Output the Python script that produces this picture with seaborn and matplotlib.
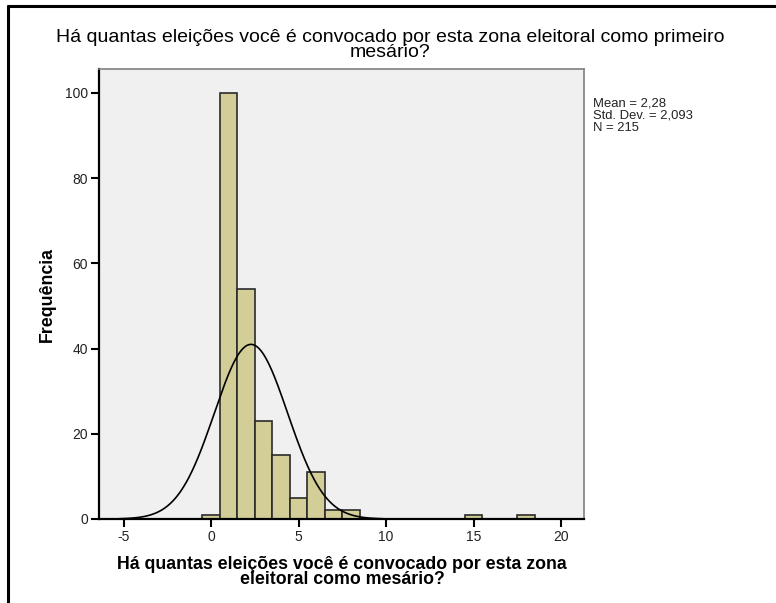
import numpy as np
import pandas as pd
import matplotlib
matplotlib.use("Agg")
import matplotlib.pyplot as plt
import seaborn as sns

# Data
values = [0, 1, 2, 3, 4, 5, 6, 7, 8, 15, 18]
counts = [1, 100, 54, 23, 15, 5, 11, 2, 2, 1, 1]
mean_val = 2.28
std_val = 2.093
n_val = 215
x_ticks = [-5, 0, 5, 10, 15, 20]
y_ticks = [0, 20, 40, 60, 80, 100]

title = "Há quantas eleições você é convocado por esta zona eleitoral como primeiro\nmesário?"
xlabel = "Há quantas eleições você é convocado por esta zona\neleitoral como mesário?"
ylabel = "Frequência"

sns.set_style("white")
plt.rcParams['font.family'] = ['Liberation Sans', 'DejaVu Sans']

W, H = 776, 603
fig = plt.figure(figsize=(W / 100, H / 100), dpi=100)
ax = fig.add_axes([99 / W, 1 - 519 / H, (584 - 99) / W, (519 - 69) / H])
ax.set_facecolor("#F0F0F0")

df = pd.DataFrame({"v": values, "c": counts})
sns.histplot(data=df, x="v", weights="c", binwidth=1, binrange=(-0.5, 18.5),
             color="#D3CE97", edgecolor="#2b2b2b", linewidth=1.2, alpha=1, ax=ax)

xs = np.linspace(mean_val - 3.6 * std_val, mean_val + 3.6 * std_val, 300)
ys = n_val * 1.0 * np.exp(-0.5 * ((xs - mean_val) / std_val) ** 2) / (std_val * np.sqrt(2 * np.pi))
sns.lineplot(x=xs, y=ys, color="black", linewidth=1.2, ax=ax)

ax.set_xlim(-6.4, 21.3)
ax.set_ylim(0, 105.6)
ax.set_xticks(x_ticks)
ax.set_xticklabels([str(t) for t in x_ticks])
ax.set_yticks(y_ticks)
ax.set_yticklabels([str(t) for t in y_ticks])
ax.tick_params(axis="both", direction="out", length=6, width=1.5, color="black",
               labelsize=10, labelcolor="#222222", pad=2, bottom=True, left=True)
for s in ["left", "bottom"]:
    ax.spines[s].set_color("black")
    ax.spines[s].set_linewidth(1.6)
for s in ["top", "right"]:
    ax.spines[s].set_color("#808080")
    ax.spines[s].set_linewidth(1.2)
ax.set_xlabel("")
ax.set_ylabel("")

fig.text(390 / W, 1 - 45 / H, title, ha="center", va="center", fontsize=14, color="black",
         linespacing=0.84)
fig.text(342 / W, 1 - 572 / H, xlabel, ha="center", va="center", fontsize=12.8,
         fontweight="bold", color="black", linespacing=0.89)
fig.text(47 / W, 1 - 295 / H, ylabel, ha="center", va="center", rotation=90, fontsize=12.8,
         fontweight="bold", color="black")
mean_txt = f"{mean_val:.2f}".replace(".", ",")
std_txt = f"{std_val:.3f}".replace(".", ",")
stats = f"Mean = {mean_txt}\nStd. Dev. = {std_txt}\nN = {n_val}"
fig.text(593 / W, 1 - 116 / H, stats, ha="left", va="center", fontsize=9.4, color="#222222",
         linespacing=1.0)

# outer frame lines (left and top)
fig.add_artist(plt.Line2D([7.5 / W, 7.5 / W], [0, 1 - 5.5 / H], color="black", linewidth=2.2,
                          transform=fig.transFigure))
fig.add_artist(plt.Line2D([7.5 / W, 1], [1 - 5.5 / H, 1 - 5.5 / H], color="black", linewidth=2.2,
                          transform=fig.transFigure))

fig.savefig("out.png", dpi=100)
